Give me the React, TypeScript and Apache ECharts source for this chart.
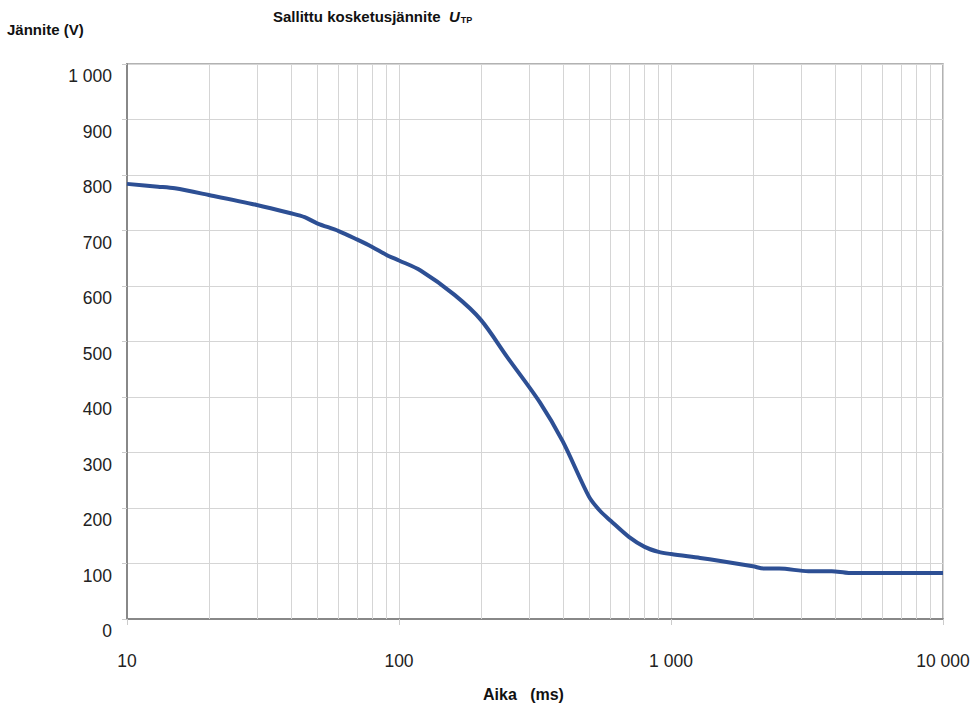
import React, { useEffect, useRef } from "react";
import * as echarts from "echarts";

const timesMs = [10, 13, 15, 20, 30, 40, 45, 50, 60, 70, 80, 90, 100, 120, 160, 200, 250, 330, 400, 500, 548, 600, 700, 800, 900, 1000, 1280, 1500, 2000, 2200, 2500, 3200, 3900, 4500, 6000, 10000];
const voltages = [784, 779, 776, 764, 746, 731, 724, 713, 699, 684, 670, 656, 646, 628, 584, 539, 472, 390, 320, 220, 195, 177, 148, 130, 121, 117, 110, 105, 95, 91, 91, 86, 86, 83, 83, 83];
const minorGridX = [20, 30, 40, 50, 60, 70, 80, 90, 200, 300, 400, 500, 600, 700, 800, 900, 2000, 3000, 4000, 5000, 6000, 7000, 8000, 9000];

const fmt = (v: number) => String(Math.round(v)).replace(/\B(?=(\d{3})+(?!\d))/g, " ");

export default function App() {
  const ref = useRef<HTMLDivElement>(null);
  useEffect(() => {
    document.body.style.margin = "0";
    const chart = echarts.init(ref.current!, null, { renderer: "svg" });
    const font = "'Liberation Sans', Arial, sans-serif";
    chart.setOption({
      animation: false,
      textStyle: { fontFamily: font },
      grid: { left: 127, right: 32, top: 64, bottom: 87, show: true, borderColor: "#999", borderWidth: 1.5 },
      title: {
        text: "{a|Sallittu kosketusjännite  }{u|U}{s|TP}",
        left: 273,
        top: 9,
        padding: 0,
        textStyle: {
          rich: {
            a: { fontFamily: font, fontWeight: "bold", fontSize: 15, color: "#111" },
            u: { fontFamily: font, fontWeight: "bold", fontStyle: "italic", fontSize: 15, color: "#111" },
            s: { fontFamily: font, fontWeight: "bold", fontSize: 9, color: "#111", padding: [6, 0, 0, 1] },
          },
        },
      },
      graphic: [
        { type: "text", x: 7, y: 22, style: { text: "Jännite (V)", font: `bold 15px ${font}`, fill: "#111" } },
        { type: "text", x: 483, y: 686, style: { text: "Aika   (ms)", font: `bold 16px ${font}`, fill: "#111" } },
      ],
      xAxis: {
        type: "log",
        logBase: 10,
        min: 10,
        max: 10000,
        axisLine: { show: true, lineStyle: { color: "#888", width: 2 } },
        axisTick: { show: true, length: 6, lineStyle: { color: "#ccc" } },
        axisLabel: { margin: 33, fontSize: 17.5, color: "#222", fontFamily: font, formatter: (v: number) => fmt(v) },
        splitLine: { show: true, lineStyle: { color: "#d5d5d5", width: 1 } },
      },
      yAxis: {
        type: "value",
        min: 0,
        max: 1000,
        interval: 100,
        axisLine: { show: true, lineStyle: { color: "#888", width: 2 } },
        axisTick: { show: true, length: 5, lineStyle: { color: "#ccc" } },
        axisLabel: { margin: 15, fontSize: 17.5, color: "#222", fontFamily: font, verticalAlign: "top", lineHeight: 24, formatter: (v: number) => fmt(v) },
        splitLine: { show: true, lineStyle: { color: "#d5d5d5", width: 1 } },
      },
      series: [
        {
          type: "line",
          data: timesMs.map((t, i) => [t, voltages[i]]),
          smooth: 0.3,
          showSymbol: false,
          symbol: "none",
          lineStyle: { color: "#2d4f94", width: 4 },
          z: 5,
          markLine: {
            silent: true,
            symbol: "none",
            label: { show: false },
            lineStyle: { color: "#d5d5d5", width: 1, type: "solid" },
            data: minorGridX.map((x) => ({ xAxis: x })),
            z: 1,
          },
        },
      ],
    });
    return () => chart.dispose();
  }, []);
  return <div ref={ref} style={{ width: 975, height: 706 }} />;
}
